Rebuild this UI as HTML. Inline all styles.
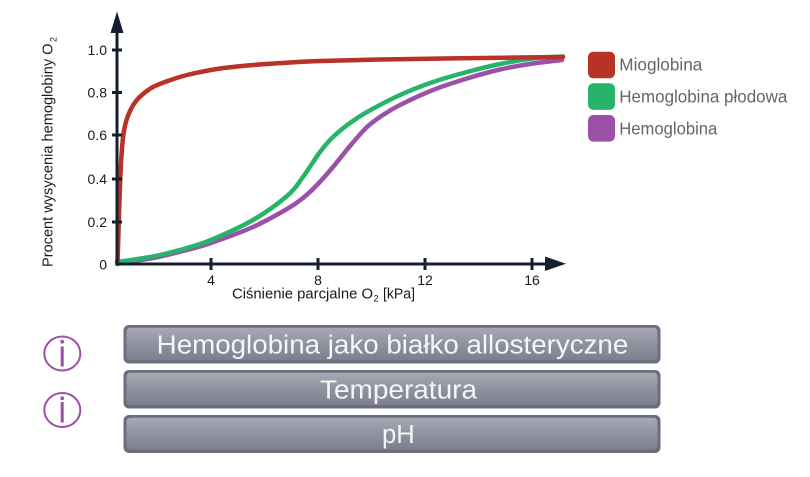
<!DOCTYPE html>
<html>
<head>
<meta charset="utf-8">
<style>
html,body{margin:0;padding:0;background:#fff;}
svg{display:block;}
text{font-family:"Liberation Sans","DejaVu Sans",sans-serif;}
</style>
</head>
<body>
<svg id="chart" width="810" height="477" viewBox="0 0 810 477" xmlns="http://www.w3.org/2000/svg">
<defs>
<linearGradient id="btn" x1="0" y1="0" x2="0" y2="1">
<stop offset="0" stop-color="#a7aab6"/>
<stop offset="0.5" stop-color="#8f929f"/>
<stop offset="1" stop-color="#7c7f8e"/>
</linearGradient>
</defs>
<rect width="810" height="477" fill="#fff"/>

<!-- curves -->
<polyline class="smooth" fill="none" stroke="#9d50a8" stroke-width="4.5" stroke-linejoin="round" stroke-linecap="round"
points="117,263 153,258 187,250 211,243 253,227 287,209 303,198 317,185 333,167 350,146 367,127 383,115 400,105 433,90 467,78.5 500,69.5 533,63.5 562,60"/>
<polyline class="smooth" fill="none" stroke="#27b46a" stroke-width="4.5" stroke-linejoin="round" stroke-linecap="round"
points="117,262 153,256.5 187,248 211,240 253,220 287,196 303,177 320,152 333,137 350,123 367,112 400,95 433,82 467,72 500,64 533,58.5 563,56.5"/>
<polyline class="smooth" fill="none" stroke="#b83227" stroke-width="4.5" stroke-linejoin="round" stroke-linecap="round"
points="117.5,264 118.7,225 120,185 121.5,155 123.5,134 126.5,120 131,109 136,101 143,94 153,87 165,82 187,75 220,68.5 253,65 290,62.5 320,61 380,59.5 460,58.3 563,57"/>

<!-- axes -->
<g stroke="#15202e" stroke-width="3" fill="none">
<line x1="117" y1="265.5" x2="117" y2="30"/>
<line x1="115.5" y1="264" x2="547" y2="264"/>
<line x1="112" y1="50" x2="122" y2="50"/>
<line x1="112" y1="92.5" x2="122" y2="92.5"/>
<line x1="112" y1="135" x2="122" y2="135"/>
<line x1="112" y1="179" x2="122" y2="179"/>
<line x1="112" y1="222" x2="122" y2="222"/>
<line x1="211" y1="258" x2="211" y2="270"/>
<line x1="318" y1="258" x2="318" y2="270"/>
<line x1="425" y1="258" x2="425" y2="270"/>
<line x1="532" y1="258" x2="532" y2="270"/>
</g>
<polygon points="110.5,33 123.5,33 117,11.5" fill="#15202e"/>
<polygon points="545,256.5 545,271 566,263.8" fill="#15202e"/>

<!-- tick labels -->
<g font-size="14" fill="#1a1a1a" text-anchor="end">
<text x="107" y="55">1.0</text>
<text x="107" y="97.5">0.8</text>
<text x="107" y="140">0.6</text>
<text x="107" y="184">0.4</text>
<text x="107" y="227">0.2</text>
<text x="107" y="269.5">0</text>
</g>
<g font-size="14" fill="#1a1a1a" text-anchor="middle">
<text x="211" y="285">4</text>
<text x="318" y="285">8</text>
<text x="425" y="285">12</text>
<text x="532" y="285">16</text>
</g>

<!-- axis titles -->
<g fill="#1a1a1a">
<text x="232" y="298.5" font-size="14.5" textLength="141" lengthAdjust="spacingAndGlyphs">Ciśnienie parcjalne O</text>
<text x="373.5" y="301.5" font-size="9">2</text>
<text x="383" y="298.5" font-size="14.5" textLength="32" lengthAdjust="spacingAndGlyphs">[kPa]</text>
</g>
<g fill="#1a1a1a" transform="translate(52.7,267) rotate(-90)">
<text x="0" y="0" font-size="14.5" textLength="223.5" lengthAdjust="spacingAndGlyphs">Procent wysycenia hemoglobiny O</text>
<text x="225" y="4" font-size="9">2</text>
</g>

<!-- legend -->
<rect x="588" y="51.7" width="27" height="26.6" rx="5.5" fill="#b83227"/>
<rect x="588" y="83.3" width="27" height="26.6" rx="5.5" fill="#27b46a"/>
<rect x="588" y="115" width="27" height="26.6" rx="5.5" fill="#9d50a8"/>
<g font-size="17.5" fill="#666">
<text x="619.3" y="70.7" textLength="83" lengthAdjust="spacingAndGlyphs">Mioglobina</text>
<text x="619.3" y="102.7" textLength="168" lengthAdjust="spacingAndGlyphs">Hemoglobina płodowa</text>
<text x="619.3" y="134.3" textLength="98" lengthAdjust="spacingAndGlyphs">Hemoglobina</text>
</g>

<!-- info icons -->
<g stroke="#9d50a8" stroke-width="2" fill="none">
<ellipse cx="62.3" cy="353.5" rx="18" ry="17"/>
<ellipse cx="62.3" cy="410" rx="18" ry="17"/>
</g>
<g fill="#9d50a8">
<circle cx="62.2" cy="341.7" r="1.9"/>
<rect x="60.7" y="346.5" width="3" height="20"/>
<circle cx="62.2" cy="398.3" r="1.9"/>
<rect x="60.7" y="402" width="3" height="20.5"/>
</g>

<!-- buttons -->
<rect x="123.5" y="325" width="537" height="38.5" rx="5.5" fill="#6c6e7e"/>
<rect x="126.5" y="327.8" width="531" height="32.5" rx="4" fill="url(#btn)"/>
<rect x="123.5" y="370" width="537" height="38.5" rx="5.5" fill="#6c6e7e"/>
<rect x="126.5" y="372.8" width="531" height="32.5" rx="4" fill="url(#btn)"/>
<rect x="123.5" y="415" width="537" height="38" rx="5.5" fill="#6c6e7e"/>
<rect x="126.5" y="417.8" width="531" height="32" rx="4" fill="url(#btn)"/>
<g font-size="25.5" fill="#f6f6f6">
<text x="156.7" y="353.3" textLength="471.6" lengthAdjust="spacingAndGlyphs">Hemoglobina jako białko allosteryczne</text>
<text x="320" y="398.3" textLength="157" lengthAdjust="spacingAndGlyphs">Temperatura</text>
<text x="382" y="443" textLength="32.7" lengthAdjust="spacingAndGlyphs">pH</text>
</g>
</svg>
<script>
(function(){
  var NS="http://www.w3.org/2000/svg";
  var pls=document.querySelectorAll("polyline.smooth");
  for(var k=0;k<pls.length;k++){
    var pl=pls[k];
    var raw=pl.getAttribute("points").trim().split(/\s+/);
    var p=raw.map(function(s){var a=s.split(",");return [parseFloat(a[0]),parseFloat(a[1])];});
    var d="M"+p[0][0]+","+p[0][1];
    for(var i=0;i<p.length-1;i++){
      var p0=p[i-1]||p[i],p1=p[i],p2=p[i+1],p3=p[i+2]||p[i+1];
      var c1x=p1[0]+(p2[0]-p0[0])/6,c1y=p1[1]+(p2[1]-p0[1])/6;
      var c2x=p2[0]-(p3[0]-p1[0])/6,c2y=p2[1]-(p3[1]-p1[1])/6;
      d+=" C"+c1x.toFixed(2)+","+c1y.toFixed(2)+" "+c2x.toFixed(2)+","+c2y.toFixed(2)+" "+p2[0]+","+p2[1];
    }
    var path=document.createElementNS(NS,"path");
    path.setAttribute("d",d);
    ["fill","stroke","stroke-width","stroke-linejoin","stroke-linecap"].forEach(function(a){path.setAttribute(a,pl.getAttribute(a));});
    pl.parentNode.replaceChild(path,pl);
  }
})();
</script>
</body>
</html>
